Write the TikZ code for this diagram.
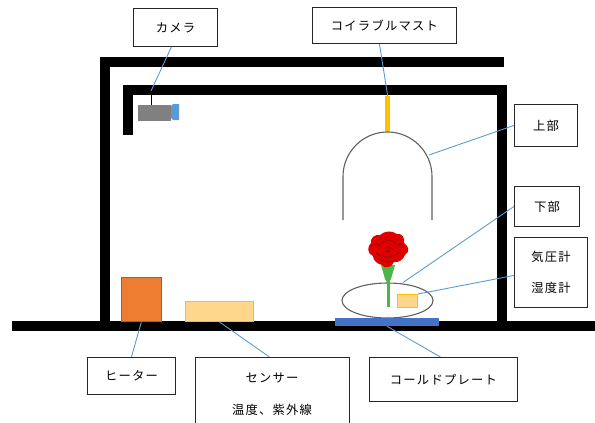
\documentclass[tikz,border=0pt]{standalone}
\usepackage{fontspec}
\usetikzlibrary{shapes.geometric}
\newfontfamily\jpfont[LetterSpace=10]{Noto Sans CJK JP}
\definecolor{calloutblue}{HTML}{5B9BD5}
\definecolor{heaterfill}{HTML}{ED7D31}
\definecolor{heaterline}{HTML}{B5591E}
\definecolor{sensorfill}{HTML}{FFD78C}
\definecolor{sensorline}{HTML}{FFC000}
\definecolor{plateblue}{HTML}{4472C4}
\definecolor{camgrey}{HTML}{808080}
\definecolor{domegrey}{HTML}{606060}
\definecolor{stemgreen}{HTML}{4CB648}
\definecolor{rosered}{HTML}{E00000}
\definecolor{rosedark}{HTML}{A00000}
\begin{document}
\begin{tikzpicture}[x=1pt,y=-1pt,
  wall/.style={line width=10pt, line cap=butt, line join=miter},
  lbl/.style={draw=black!85, line width=0.9pt, fill=white, inner sep=0pt,
    anchor=north west, align=center,
    font=\jpfont\fontsize{12.3}{14}\selectfont},
  callout/.style={draw=calloutblue, line width=0.9pt},
  thinline/.style={draw=domegrey, line width=1.1pt},
  petal/.style={draw=rosedark, line width=0.9pt},
]
\useasboundingbox (0,0) rectangle (595,423);

% enclosure walls and floor
\draw[wall] (104.5,326) -- (104.5,62) -- (504,62);
\draw[wall] (127.5,135) -- (127.5,90) -- (502,90) -- (502,326);
\draw[wall] (12,326) -- (595,326);

% camera on its ceiling mount
\draw[black, line width=1pt] (151,95) -- (151,105);
\node[fill=camgrey, minimum width=33pt, minimum height=16pt, inner sep=0pt, anchor=north west] (camera) at (138,105) {};
\fill[calloutblue] (171,106) -- (173,104) -- (179,104) -- (179,120) -- (173,120) -- (171,118) -- cycle;
\coordinate (cammount) at (151,91);

% collapsible mast and upper dome
\node[fill=sensorline, minimum width=5pt, minimum height=36pt, inner sep=0pt, anchor=north west] (mast) at (385,96) {};
\draw[thinline] (343,220) -- (343,176.5) arc[start angle=180, end angle=360, radius=44.5] -- (432,220);
\coordinate (domept) at (429,155);

% lower vessel on the cold plate
\node[draw=domegrey, line width=1.1pt, shape=ellipse, minimum width=91pt, minimum height=35pt, inner sep=0pt] (vessel) at (387.5,300.5) {};
\coordinate (vesselpt) at (403,282.5);
\node[fill=plateblue, minimum width=104pt, minimum height=8pt, inner sep=0pt, anchor=north west] (plate) at (335,318) {};

% rose: stem, calyx and bloom
\draw[stemgreen, line width=3pt] (388,278) -- (388,307);
\fill[stemgreen] (381,265) -- (395,265) -- (391,279) -- (388,284) -- (385,279) -- cycle;
\fill[rosered] (380,235) .. controls (384,231) and (392,230) .. (397,234)
  .. controls (402,233) and (405,238) .. (404,243)
  .. controls (409,246) and (410,252) .. (405,255)
  .. controls (403,260) and (398,263) .. (394,262)
  .. controls (392,268) and (384,269) .. (382,265)
  .. controls (377,264) and (373,260) .. (373,256)
  .. controls (367,254) and (367,246) .. (371,243)
  .. controls (370,238) and (375,234) .. (380,235) -- cycle;
\draw[petal] (381,244) .. controls (385,239) and (393,239) .. (396,244);
\draw[petal] (383,249) .. controls (386,246) and (391,246) .. (393,250);
\draw[petal] (376,252) .. controls (380,258) and (392,259) .. (399,252);
\draw[petal] (379,259) .. controls (384,263) and (392,263) .. (396,259);
\draw[petal] (372,246) .. controls (375,243) and (378,243) .. (380,246);
\draw[petal] (397,245) .. controls (400,243) and (403,245) .. (404,248);
\fill[rosedark] (388,251) circle[radius=1.8];

% barometer / hygrometer
\node[fill=sensorfill, draw=sensorline, line width=1pt, minimum width=20pt, minimum height=13pt, inner sep=0pt, anchor=north west] (gauge) at (397,294) {};

% heater and floor sensor
\node[fill=heaterfill, draw=heaterline, line width=0.8pt, minimum width=40pt, minimum height=44pt, inner sep=0pt, anchor=north west] (heater) at (121,277) {};
\node[fill=sensorfill, draw=sensorline, line width=1pt, minimum width=68pt, minimum height=20pt, inner sep=0pt, anchor=north west] (sensor) at (185,301) {};

% labels
\node[lbl, minimum width=84pt, minimum height=38pt] (camlbl) at (133,8) {カメラ};
\node[lbl, minimum width=144pt, minimum height=36pt] (mastlbl) at (312,7) {コイラブルマスト};
\node[lbl, minimum width=63pt, minimum height=42pt] (upperlbl) at (514,104) {上部};
\node[lbl, minimum width=65pt, minimum height=40pt] (lowerlbl) at (514,186) {下部};
\node[lbl, minimum width=73pt, minimum height=70pt] (gaugelbl) at (514,237) {気圧計\\[17pt]湿度計};
\node[lbl, minimum width=88pt, minimum height=37pt] (heaterlbl) at (87,357) {ヒーター};
\node[lbl, minimum width=148pt, minimum height=44pt] (coldlbl) at (369,357) {コールドプレート};
\node[lbl, minimum width=154pt, minimum height=80pt, anchor=north west] (sensorlbl) at (195,357) {};
\node[font=\jpfont\fontsize{12.3}{14}\selectfont] (sensorname) at (272,378) {センサー};
\node[font=\jpfont\fontsize{12.3}{14}\selectfont] (sensorkind) at (272,410) {温度、紫外線};

% callout lines
\draw[callout] ([xshift=-4pt]camlbl.south) -- (cammount);
\draw[callout] ([xshift=-5pt]mastlbl.south) -- (mast.north);
\draw[callout] (upperlbl.west) -- (domept);
\draw[callout] (lowerlbl.west) -- (vesselpt);
\draw[callout] ([yshift=-3pt]gaugelbl.west) -- (gauge.north east);
\draw[callout] ([xshift=-3pt]coldlbl.north) -- (plate.south);
\draw[callout] (heaterlbl.north) -- (heater.south);
\draw[callout] ([xshift=-3pt]sensorlbl.north) -- (sensor.south);
\end{tikzpicture}
\end{document}
